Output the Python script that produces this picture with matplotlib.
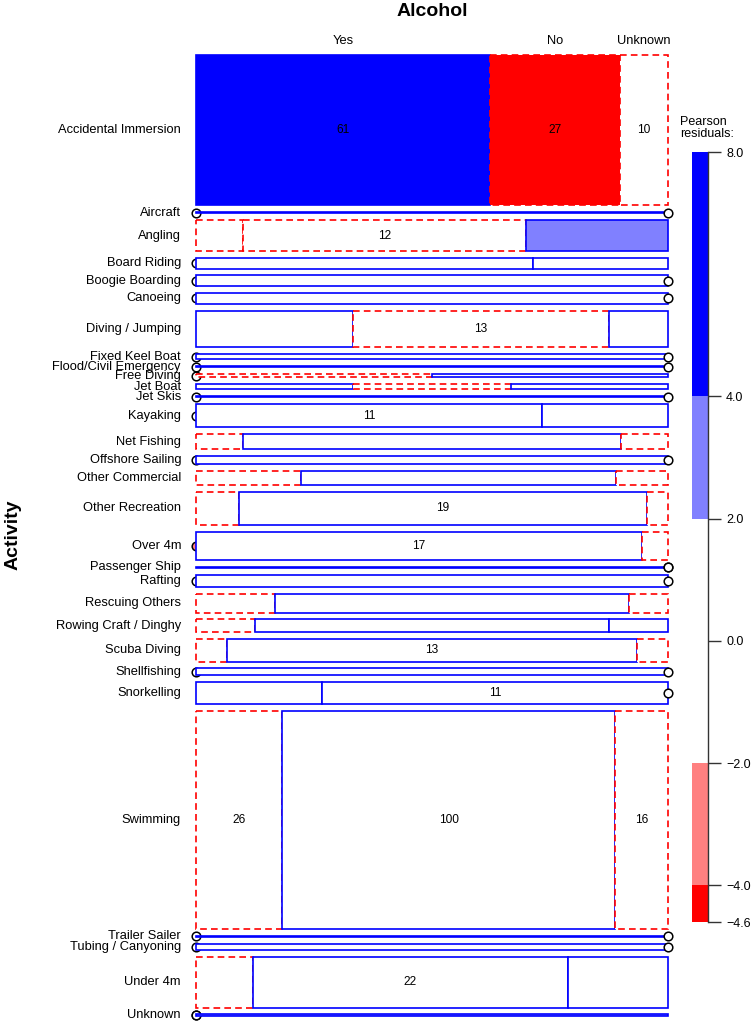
import numpy as np
import matplotlib
matplotlib.use("Agg")
import matplotlib.pyplot as plt
from matplotlib.patches import Rectangle
import matplotlib.transforms as mtransforms

plt.rcParams['font.family'] = ['Liberation Sans', 'DejaVu Sans']

# ---------------- data ----------------
activities = ["Accidental Immersion", "Aircraft", "Angling", "Board Riding", "Boogie Boarding",
              "Canoeing", "Diving / Jumping", "Fixed Keel Boat", "Flood/Civil Emergency",
              "Free Diving", "Jet Boat", "Jet Skis", "Kayaking", "Net Fishing", "Offshore Sailing",
              "Other Commercial", "Other Recreation", "Over 4m", "Passenger Ship", "Rafting",
              "Rescuing Others", "Rowing Craft / Dinghy", "Scuba Diving", "Shellfishing",
              "Snorkelling", "Swimming", "Trailer Sailer", "Tubing / Canyoning", "Under 4m", "Unknown"]
alcohol_levels = ["Yes", "No", "Unknown"]
yes_counts = [61, 0, 2, 0, 0, 0, 8, 0, 0, 0, 1, 0, 0, 1, 0, 2, 2, 0, 1, 0, 2, 1, 1, 0, 4, 26, 0, 0, 4, 0]
no_counts = [27, 1, 12, 5, 7, 7, 13, 3, 1, 1, 1, 1, 11, 8, 5, 6, 19, 17, 0, 8, 9, 6, 13, 4, 11, 100, 1, 4, 22, 0]
unknown_counts = [10, 0, 6, 2, 0, 0, 3, 0, 0, 1, 1, 0, 4, 1, 0, 1, 1, 1, 0, 0, 1, 1, 1, 0, 0, 16, 0, 0, 7, 1]
legend_ticks = [8.0, 4.0, 2.0, 0.0, -2.0, -4.0, -4.6]

# ---------------- computation ----------------
obs = np.array([yes_counts, no_counts, unknown_counts], dtype=float).T
n = obs.sum()
expected = np.outer(obs.sum(axis=1), obs.sum(axis=0)) / n
resid = (obs - expected) / np.sqrt(expected)
rmax, rmin = resid.max(), resid.min()

BLUE = '#0000FF'
LBLUE = '#8080FF'
RED = '#FF0000'
LRED = '#FF8080'

def fill_for(r):
    if r > 4:
        return BLUE
    if r > 2:
        return LBLUE
    if r < -4:
        return RED
    if r < -2:
        return LRED
    return 'white'

W, H = 755, 1022
fig = plt.figure(figsize=(W / 100, H / 100), dpi=100)

left, right, top, bottom = 196, 668, 55, 1016
ax = fig.add_axes([left / W, 1 - bottom / H, (right - left) / W, (bottom - top) / H])
ax.set_axis_off()

gap = 4.52
row_tops = []
y = 0.0
for i in range(len(activities)):
    row_tops.append(y)
    y += obs[i].sum() + gap
y_end = y - gap
ax.set_xlim(0, 1)
ax.set_ylim(y_end, 0)

lab_trans = mtransforms.blended_transform_factory(ax.transAxes, ax.transData)
z = 2
for i, act in enumerate(activities):
    tot = obs[i].sum()
    t = row_tops[i]
    x0 = 0.0
    for j in range(3):
        c = obs[i, j]
        w = c / tot
        r = resid[i, j]
        pos = r >= 0
        ec = BLUE if pos else RED
        ls = '-' if pos else (0, (4, 2.5))
        if c == 0:
            ax.plot([x0], [t + tot / 2], marker='o', markersize=6.2,
                    markerfacecolor=fill_for(r), markeredgecolor='black',
                    markeredgewidth=1.1, zorder=z, clip_on=False)
        else:
            rect = Rectangle((x0, t), w, tot, facecolor=fill_for(r), edgecolor=ec,
                             linewidth=1.2, linestyle=ls, zorder=z, clip_on=False)
            ax.add_patch(rect)
            if c >= 10:
                ax.text(x0 + w / 2, t + tot / 2, f"{int(c)}", ha='center', va='center',
                        fontsize=8.6, zorder=z + 1)
        z += 1
        x0 += w
    ax.text(-15 / (right - left), t + tot / 2, act, transform=lab_trans,
            ha='right', va='center', fontsize=9.3)

# column labels from the first row
tot0 = obs[0].sum()
x0 = 0.0
col_trans = mtransforms.blended_transform_factory(ax.transData, fig.transFigure)
for j, lev in enumerate(alcohol_levels):
    w = obs[0, j] / tot0
    ax.text(x0 + w / 2, 1 - 41 / H, lev, transform=col_trans, ha='center', va='center',
            fontsize=9.3)
    x0 += w

fig.text(432 / W, 1 - 12 / H, "Alcohol", ha='center', va='center', fontsize=14,
         fontweight='bold')
fig.text(13 / W, 1 - 535 / H, "Activity", ha='center', va='center', fontsize=14,
         fontweight='bold', rotation=90)

# ---------------- legend ----------------
lax = fig.add_axes([692 / W, 1 - 922 / H, 16 / W, 770 / H])
lo, hi = float(f"{rmin:.1f}"), float(f"{rmax:.1f}")
breaks = [lo, -4, -2, 2, 4, hi]
cols = [RED, LRED, 'white', LBLUE, BLUE]
for k in range(5):
    lax.bar(0.5, breaks[k + 1] - breaks[k], bottom=breaks[k], width=1.0, color=cols[k],
            edgecolor='none')
lax.set_xlim(0, 1)
lax.set_ylim(lo, hi)
for s in ['left', 'top', 'bottom']:
    lax.spines[s].set_visible(False)
lax.spines['right'].set_color('#333333')
lax.spines['right'].set_linewidth(1.0)
lax.set_xticks([])
lax.yaxis.tick_right()
lax.set_yticks(legend_ticks)
lax.set_yticklabels([f"{v:.1f}".replace('-', '\u2212') for v in legend_ticks], fontsize=9)
lax.tick_params(axis='y', length=9, width=1.0, color='#333333', pad=4)

fig.text(680 / W, 1 - 116 / H, "Pearson\nresiduals:", ha='left', va='top', fontsize=9,
         linespacing=0.95)

fig.savefig("out.png", dpi=100)
